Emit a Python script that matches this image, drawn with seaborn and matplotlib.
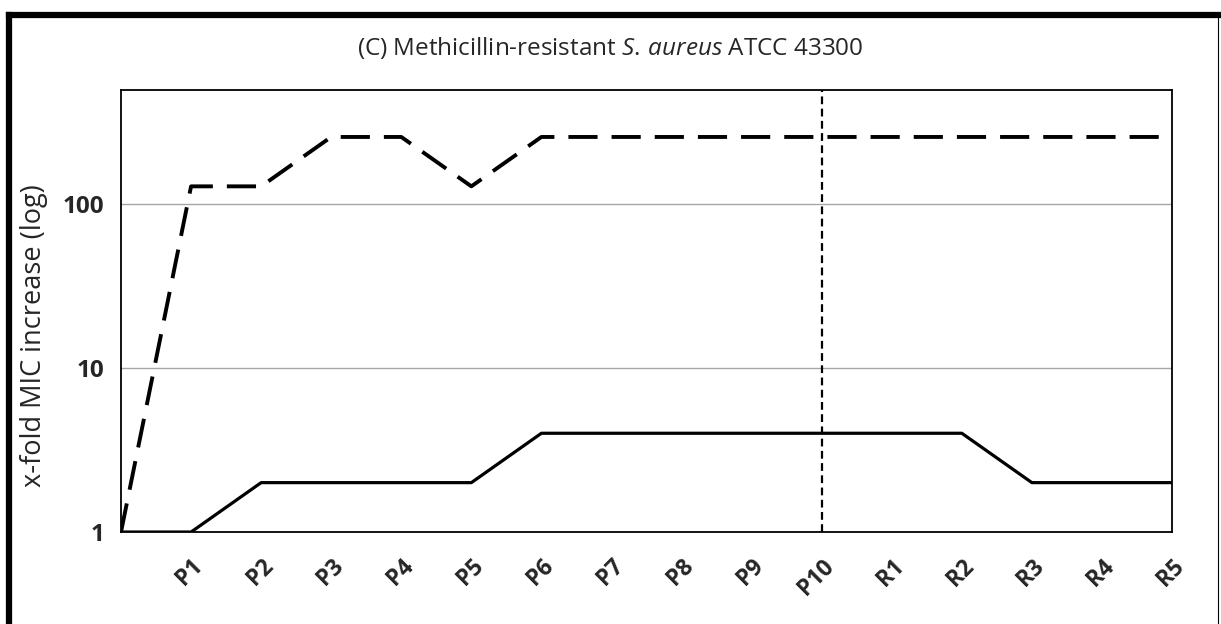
import numpy as np
import pandas as pd
import matplotlib
matplotlib.use('Agg')
import matplotlib.pyplot as plt
import seaborn as sns
from matplotlib.lines import Line2D
from matplotlib.ticker import FixedLocator, NullLocator, FixedFormatter

# passages: start point (unlabelled), P1-P10 passages, R1-R5 recovery
labels = ['', 'P1', 'P2', 'P3', 'P4', 'P5', 'P6', 'P7', 'P8', 'P9', 'P10',
          'R1', 'R2', 'R3', 'R4', 'R5']
fold_dashed = [1, 128, 128, 256, 256, 128, 256, 256, 256, 256, 256,
               256, 256, 256, 256, 256]
fold_solid = [1, 1, 2, 2, 2, 2, 4, 4, 4, 4, 4, 4, 4, 2, 2, 2]

df = pd.DataFrame({'pos': np.arange(len(labels)),
                   'dashed': fold_dashed,
                   'solid': fold_solid})

sns.set_style('white')
plt.rcParams['font.family'] = ['Open Sans', 'DejaVu Sans']
plt.rcParams['mathtext.fontset'] = 'custom'
plt.rcParams['mathtext.rm'] = 'Open Sans'
plt.rcParams['mathtext.it'] = 'Open Sans:italic'

fig = plt.figure(figsize=(12.21, 6.24), dpi=100)
ax = fig.add_axes([0.0991, 0.1474, 0.8608, 0.7084])

ax.set_yscale('log')
ax.set_ylim(1, 495)
ax.set_xlim(0, 15)

# grid at 10 and 100
for g in [10, 100]:
    ax.axhline(g, color='#a6a6a6', lw=1.0, zorder=0)

sns.lineplot(data=df, x='pos', y='dashed', ax=ax, color='black', lw=2.8)
ax.lines[-1].set_dashes((7.5, 3.6))
sns.lineplot(data=df, x='pos', y='solid', ax=ax, color='black', lw=2.3)
ax.axvline(10, color='black', lw=1.6, dashes=(3.5, 2.0))

ax.yaxis.set_major_locator(FixedLocator([1, 10, 100]))
ax.yaxis.set_major_formatter(FixedFormatter(['1', '10', '100']))
ax.yaxis.set_minor_locator(NullLocator())
ax.set_xticks(df['pos'])
ax.set_xticklabels(labels, rotation=45, ha='right', rotation_mode='anchor',
                   fontweight='bold', fontsize=16.5)
for t in ax.get_yticklabels():
    t.set_fontweight('bold')
    t.set_fontsize(17.5)
ax.tick_params(axis='x', direction='out', length=8, width=1.2, pad=8,
               color='black')
ax.tick_params(axis='y', direction='out', length=7, width=1.2, pad=5,
               color='black')
ax.set_xlabel('')
ax.set_ylabel('')
for s in ax.spines.values():
    s.set_color('black')
    s.set_linewidth(1.3)

fig.text(0.028, 0.4615, 'x-fold MIC increase (log)', rotation=90,
         ha='center', va='center', fontsize=19.5)
fig.text(0.5, 0.923,
         r'(C) Methicillin-resistant $\mathit{S.\,aureus}$ ATCC 43300',
         ha='center', va='center', fontsize=17.5)

# outer frame (thick left and top, thin right)
fig.add_artist(Line2D([0.0074, 0.0074], [0, 0.9766], color='black', lw=4.5,
                      transform=fig.transFigure, solid_capstyle='projecting'))
fig.add_artist(Line2D([0.0074, 0.9975], [0.9766, 0.9766], color='black', lw=4.5,
                      transform=fig.transFigure, solid_capstyle='projecting'))
fig.add_artist(Line2D([0.9975, 0.9975], [0, 0.9766], color='black', lw=0.8,
                      transform=fig.transFigure))

fig.savefig('out.png', dpi=100)
